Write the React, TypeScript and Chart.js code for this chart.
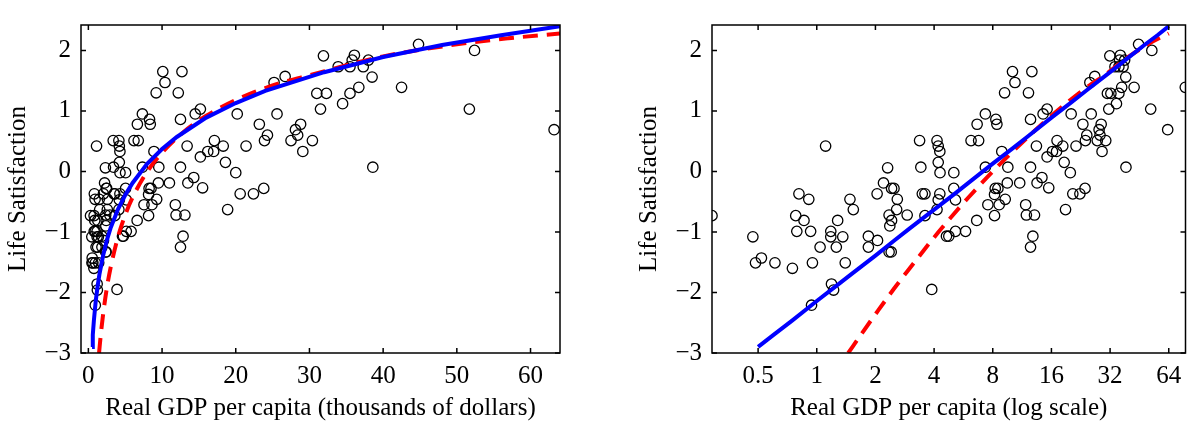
import React, { useEffect, useRef } from "react";
import { Chart, registerables } from "chart.js";

Chart.register(...registerables);

// ---- data ----
const gdp = [
  0.29, 0.47, 0.485, 0.52, 0.61, 0.75, 0.78, 0.79, 0.81, 0.86, 0.91, 0.93, 0.94, 0.95,
  1.04, 1.11, 1.18, 1.18, 1.19, 1.22, 1.26, 1.28, 1.36, 1.4, 1.48, 1.54, 1.84, 1.84,
  2.04, 2.05, 2.2, 2.31, 2.35, 2.35, 2.37, 2.41, 2.42, 2.42, 2.49, 2.57, 2.59, 2.91,
  3.37, 3.42, 3.48, 3.59, 3.59, 3.89, 4.14, 4.2, 4.28, 4.2, 4.29, 4.28, 4.2, 4.14,
  4.63, 4.76, 5.05, 5.05, 5.15, 5.15, 5.8, 6.19, 6.77, 6.65, 6.62, 7.33, 7.33, 7.55,
  8.24, 8.5, 8.17, 8.17, 8.63, 8.3, 8.4, 8.9, 9.2, 9.27, 9.5, 9.56,
  10.1, 10.4, 11.0, 11.8, 11.9, 12.2, 12.5, 12.5, 12.5, 12.7, 12.85, 13.1, 13.4, 13.5,
  14.3, 14.5, 15.2, 15.2, 15.5, 16.2, 17.0, 17.1, 18.3, 18.6, 18.9, 20.0, 20.2, 20.6,
  21.4, 22.4, 23.2, 23.8, 23.9, 24.3, 25.2, 25.6, 26.7, 27.5, 28.1, 28.4, 28.8, 29.1,
  30.4, 31.0, 31.5, 31.9, 32.3, 33.9, 34.5, 35.5, 35.5, 35.8, 36.1, 36.7, 37.3, 38.0,
  38.5, 38.6, 42.5, 44.8, 51.7, 52.4, 63.2, 77.8,
];
const lifeSat = [
  -0.73, -1.08, -1.51, -1.43, -1.51, -1.6, -0.73, -0.99, -0.37, -0.81, -0.46, -0.99, -2.21, -1.51,
  -1.25, 0.42, -0.99, -1.08, -1.86, -1.96, -1.25, -0.81, -1.08, -1.51, -0.46, -0.63, -1.07, -1.25,
  -0.37, -1.14, -0.19, 0.06, -0.72, -1.33, -0.9, -1.33, -0.81, -0.28, -0.28, -0.63, -0.46, -0.72,
  0.51, 0.07, -0.37, -0.37, -0.73, -1.95, 0.51, 0.42, 0.33, 0.15, -0.02, -0.37, -0.47, -0.63,
  -1.07, -1.07, -0.02, -0.28, -0.47, -0.99, -0.99, 0.51, 0.51, 0.78, -0.81, 0.95, 0.07, -0.55,
  -0.28, -0.28, -0.38, -0.73, -0.55, 0.86, 0.78, 0.33, 1.3, -0.46, -0.19, 0.07,
  1.65, 1.47, -0.19, -0.55, -0.72, 1.3, 0.07, 0.86, -1.25, 1.65, -1.07, -0.72, 0.42, -0.19,
  -0.1, 0.95, 1.03, 0.24, -0.27, 0.33, 0.33, 0.51, 0.42, 0.15, -0.63, -0.02, 0.95, -0.37,
  0.42, -0.37, 0.78, -0.28, 0.51, 0.6, 1.47, 0.95, 1.57, 0.51, 0.69, 0.6, 0.78, 0.33,
  0.51, 1.29, 1.03, 1.91, 1.29, 1.73, 1.12, 1.73, 1.29, 1.84, 1.92, 1.39, 1.73, 1.84,
  1.56, 0.07, 1.39, 2.1, 1.03, 2.0, 0.69, 1.39,
];

// solid blue fit (log-linear)
const logFitX = [0.5, 0.6, 0.75, 1, 1.25, 1.5, 2, 2.5, 3, 4, 5, 6, 8, 10, 12, 16, 20, 24, 32, 40, 48, 56, 64];
const logFitY = [-2.9, -2.7, -2.46, -2.14, -1.9, -1.7, -1.39, -1.14, -0.94, -0.63, -0.39, -0.19, 0.13, 0.37, 0.57, 0.89, 1.13, 1.33, 1.64, 1.89, 2.09, 2.25, 2.4];

// dashed red fit
const altFitX = [1.45, 1.7, 2, 2.5, 3, 4, 5, 6, 8, 10, 13, 16, 20, 25, 30, 40, 50, 57, 64];
const altFitY = [-3.0, -2.68, -2.36, -1.93, -1.6, -1.09, -0.72, -0.43, 0.0, 0.31, 0.66, 0.92, 1.18, 1.42, 1.59, 1.9, 2.1, 2.2, 2.28];

const linearXTicks = [0, 10, 20, 30, 40, 50, 60];
const logXTicks = [0.5, 1, 2, 4, 8, 16, 32, 64];
const yTicks = [-3, -2, -1, 0, 1, 2];

const yTitle = "Life Satisfaction";
const xTitleLinear = "Real GDP per capita (thousands of dollars)";
const xTitleLog = "Real GDP per capita (log scale)";

const FONT = "'Liberation Serif', 'Times New Roman', Times, serif";
const H = 423;

const framePlugin = {
  id: "frame",
  afterDraw(chart: any) {
    const { ctx, chartArea } = chart;
    const xs = chart.scales.x;
    const ys = chart.scales.y;
    const { left, right, top, bottom } = chartArea;
    ctx.save();
    ctx.strokeStyle = "#000";
    ctx.lineWidth = 1.5;
    ctx.strokeRect(left, top, right - left, bottom - top);
    const tl = 5;
    ctx.beginPath();
    xs.ticks.forEach((t: any) => {
      const px = xs.getPixelForValue(t.value);
      ctx.moveTo(px, bottom);
      ctx.lineTo(px, bottom - tl);
      ctx.moveTo(px, top);
      ctx.lineTo(px, top + tl);
    });
    ys.ticks.forEach((t: any) => {
      const py = ys.getPixelForValue(t.value);
      ctx.moveTo(left, py);
      ctx.lineTo(left + tl, py);
      ctx.moveTo(right, py);
      ctx.lineTo(right - tl, py);
    });
    ctx.stroke();
    ctx.restore();
  },
};

function fmt(v: number) {
  return v < 0 ? "\u2212" + Math.abs(v) : String(v);
}

function makeConfig(isLog: boolean, yAxisWidth: number, padRight: number, yTitlePad: number): any {
  const points = gdp.map((g, i) => ({ x: g, y: lifeSat[i] }));
  const blue = logFitX.map((g, i) => ({ x: g, y: logFitY[i] }));
  const red = altFitX.map((g, i) => ({ x: g, y: altFitY[i] }));
  const xTicks = isLog ? logXTicks : linearXTicks;
  return {
    type: "scatter",
    data: {
      datasets: [
        {
          data: blue,
          showLine: true,
          borderColor: "#0000ff",
          borderWidth: 4,
          pointRadius: 0,
          order: 0,
        },
        {
          data: red,
          showLine: true,
          borderColor: "#ff0000",
          borderWidth: 4,
          borderDash: [15, 9],
          pointRadius: 0,
          cubicInterpolationMode: "monotone",
          order: 1,
        },
        {
          data: points,
          showLine: false,
          pointStyle: "circle",
          pointRadius: 5.2,
          pointBorderWidth: 1.3,
          pointBorderColor: "#000",
          pointBackgroundColor: "rgba(0,0,0,0)",
          order: 2,
        },
      ],
    },
    options: {
      animation: false,
      responsive: false,
      devicePixelRatio: 1,
      layout: { padding: { left: 0, right: padRight, top: 8, bottom: 0 } },
      plugins: { legend: { display: false }, tooltip: { enabled: false } },
      scales: {
        x: {
          type: isLog ? "logarithmic" : "linear",
          min: isLog ? 0.29 : -1,
          max: isLog ? 78 : 64,
          grid: { display: false, drawTicks: false },
          border: { display: false },
          afterBuildTicks: (s: any) => {
            s.ticks = xTicks.map((v) => ({ value: v }));
          },
          afterFit: (s: any) => {
            s.height = 70;
          },
          ticks: {
            autoSkip: false,
            maxRotation: 0,
            padding: 8,
            color: "#000",
            font: { family: FONT, size: 25 },
            callback: (v: any) => fmt(Number(v)),
          },
          title: {
            display: true,
            text: isLog ? xTitleLog : xTitleLinear,
            color: "#000",
            font: { family: FONT, size: 25 },
            padding: { top: 0, bottom: 0 },
          },
        },
        y: {
          type: "linear",
          min: -3,
          max: 2.42,
          grid: { display: false, drawTicks: false },
          border: { display: false },
          afterBuildTicks: (s: any) => {
            s.ticks = yTicks.map((v) => ({ value: v }));
          },
          afterFit: (s: any) => {
            s.width = yAxisWidth;
          },
          ticks: {
            autoSkip: false,
            padding: 10,
            color: "#000",
            font: { family: FONT, size: 25 },
            callback: (v: any) => fmt(Number(v)),
          },
          title: {
            display: true,
            text: yTitle,
            color: "#000",
            font: { family: FONT, size: 25 },
            padding: { top: yTitlePad, bottom: 0 },
          },
        },
      },
    },
    plugins: [framePlugin],
  };
}

function Panel(props: { isLog: boolean; left: number; width: number; yAxisWidth: number; padRight: number; yTitlePad: number }) {
  const ref = useRef<HTMLCanvasElement | null>(null);
  useEffect(() => {
    if (!ref.current) return;
    const chart = new Chart(ref.current, makeConfig(props.isLog, props.yAxisWidth, props.padRight, props.yTitlePad));
    return () => chart.destroy();
  }, []);
  return (
    <div style={{ position: "absolute", left: props.left, top: 0, width: props.width, height: H }}>
      <canvas ref={ref} width={props.width} height={H} style={{ width: props.width, height: H, display: "block" }} />
    </div>
  );
}

export default function App() {
  return (
    <div style={{ position: "absolute", left: 0, top: 0, width: 1192, height: H, background: "#fff", overflow: "hidden" }}>
      <Panel isLog={false} left={0} width={600} yAxisWidth={81} padRight={40} yTitlePad={3} />
      <Panel isLog={true} left={600} width={592} yAxisWidth={112} padRight={4} yTitlePad={34} />
    </div>
  );
}
